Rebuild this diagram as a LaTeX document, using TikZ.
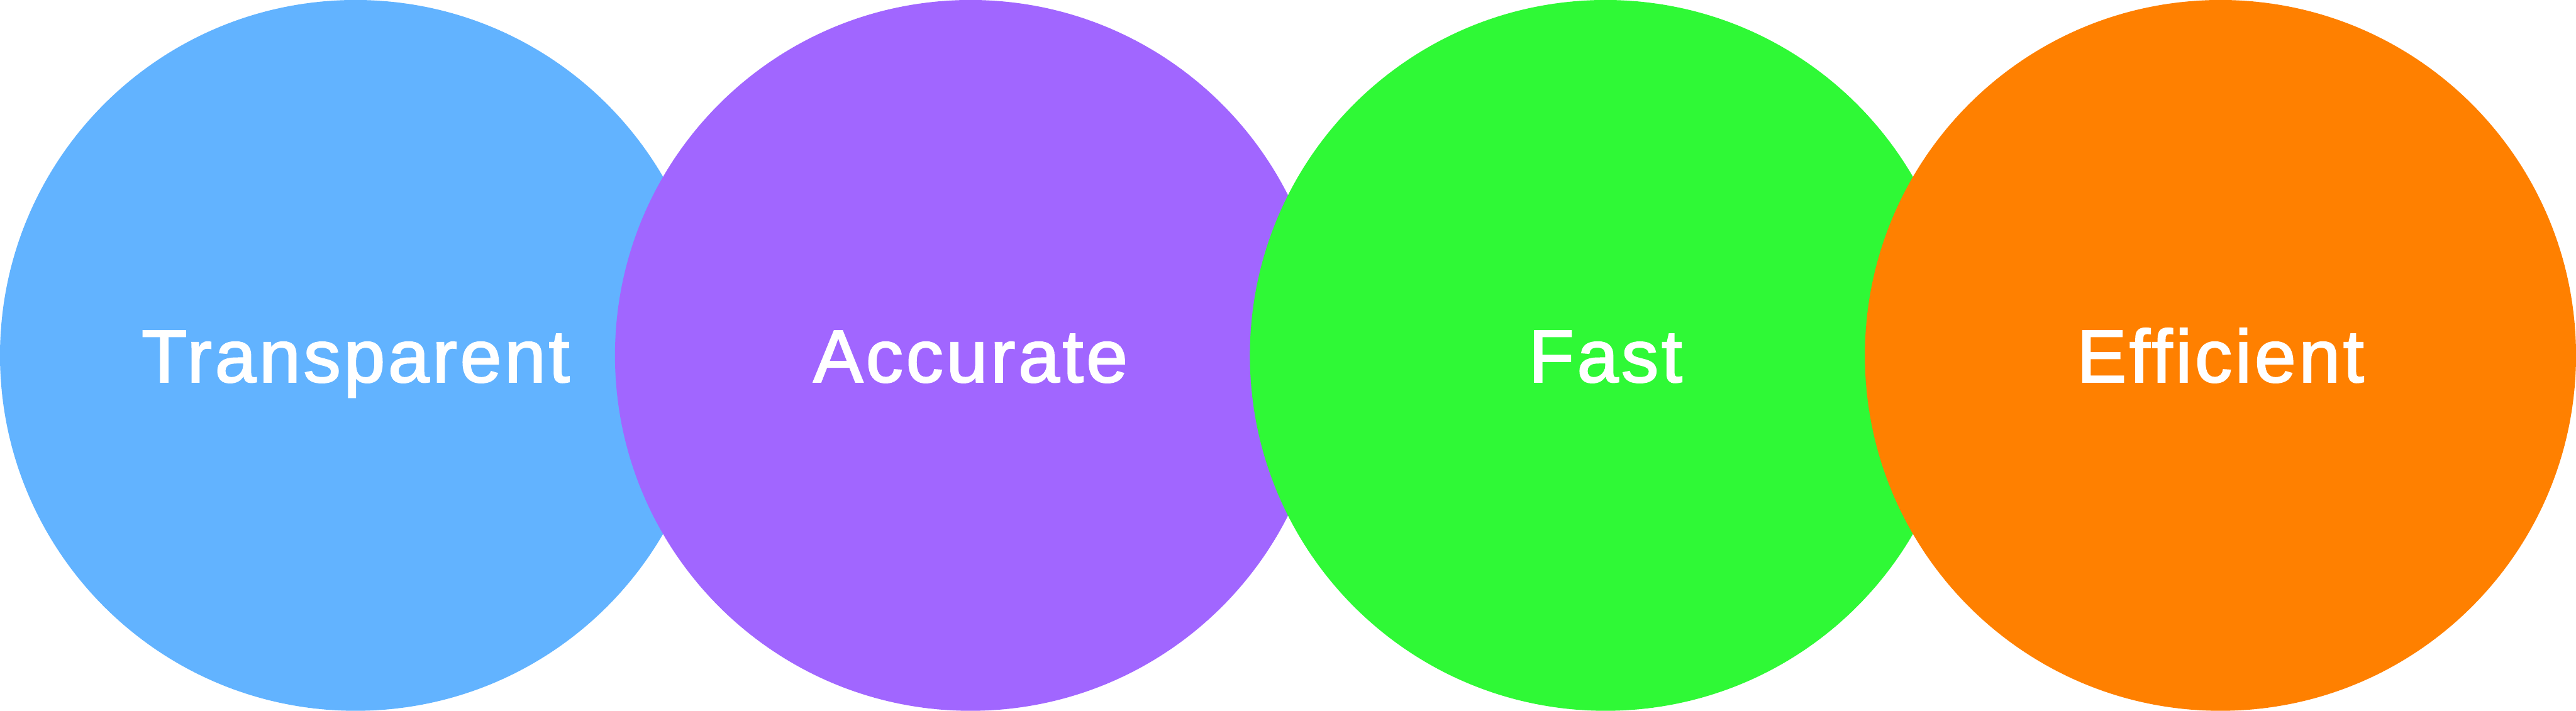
\documentclass[tikz,border=0pt]{standalone}
\usepackage{fontspec}
\setmainfont{Liberation Sans}[LetterSpace=4,FakeBold=2]
\usepackage{tikz}
\usetikzlibrary{positioning}

\definecolor{skyblue}{HTML}{62B3FF}
\definecolor{lilac}{HTML}{A166FF}
\definecolor{limegreen}{HTML}{2FF936}
\definecolor{brightorange}{HTML}{FF8000}

\begin{document}
\begin{tikzpicture}[bubble/.style={circle,inner sep=0pt,minimum size=11.76cm,text=white,font=\fontsize{35}{42}\selectfont,text height=0.88cm,text depth=0pt}]
\useasboundingbox (0,0) rectangle (42.6,11.76);
\node[bubble,fill=skyblue] (transparent) at (5.88,5.88) {Transparent};
\node[bubble,fill=lilac] (accurate) at (16.05,5.88) {Accurate};
\node[bubble,fill=limegreen] (fast) at (26.55,5.88) {Fast};
\node[bubble,fill=brightorange] (efficient) at (36.72,5.88) {Efficient};
\end{tikzpicture}
\end{document}
